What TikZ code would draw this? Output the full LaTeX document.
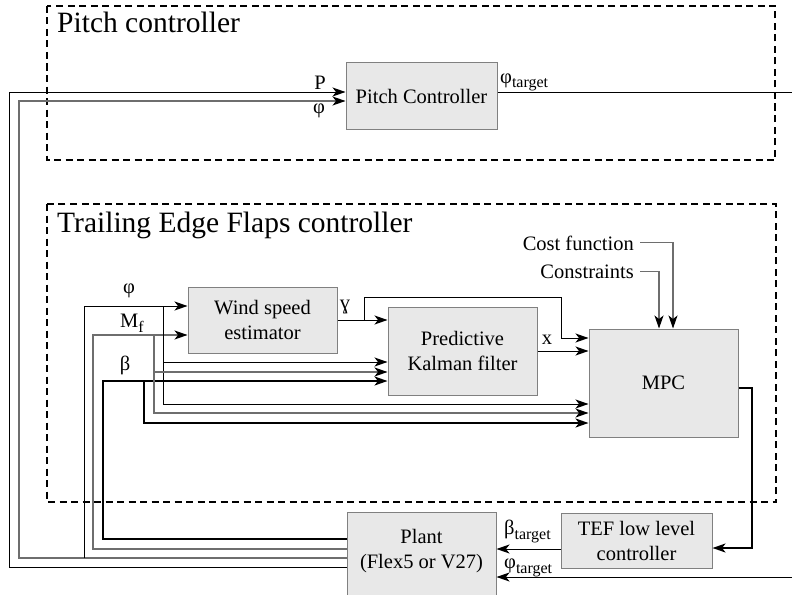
\documentclass[tikz,border=0pt]{standalone}
\usepackage{fontspec}
\setmainfont{Liberation Serif}
\usetikzlibrary{arrows.meta}
\definecolor{boxfill}{HTML}{E8E8E8}
\definecolor{boxline}{HTML}{808080}
\definecolor{wiregray}{HTML}{6E6E6E}
\newcommand{\subtxt}[1]{\raisebox{-5pt}{\fontsize{16}{16}\selectfont #1}}
\begin{document}
\begin{tikzpicture}[x=1pt,y=-1pt,
  blk/.style={draw=black,line width=1pt},
  gry/.style={draw=wiregray,line width=1.1pt},
  thk/.style={draw=black,line width=2pt},
  tip/.style={-{Stealth[length=13pt,width=9pt,inset=3.5pt,color=black]}},
  dbox/.style={draw=black,line width=1.6pt,dash pattern=on 7pt off 4.5pt},
  box/.style={draw=boxline,fill=boxfill,line width=1pt,inner sep=0pt,align=center,
    font=\fontsize{20.5}{25}\selectfont},
  lbl/.style={inner sep=0pt,font=\fontsize{20.5}{25}\selectfont},
  ttl/.style={inner sep=0pt,font=\fontsize{29.5}{32}\selectfont}
]
\clip (0,0) rectangle (792,594);
\fill[white] (0,0) rectangle (792,594);

% dashed frames
\draw[dbox] (47,6) rectangle (775,160);
\draw[dbox] (47,204) rectangle (776,502);
\node[ttl,anchor=base west] (tpitch) at (57,33) {Pitch controller};
\node[ttl,anchor=base west] (ttef) at (57,232) {Trailing Edge Flaps controller};

% blocks
\node[box,minimum width=151,minimum height=66] (pc) at (421.5,96) {Pitch Controller};
\node[box,minimum width=149,minimum height=66] (wse) at (262.5,320) {Wind speed\\estimator};
\node[box,minimum width=149,minimum height=88] (kf) at (462.5,351) {Predictive\\Kalman filter};
\node[box,minimum width=149,minimum height=108] (mpc) at (663.5,383) {MPC};
\node[box,minimum width=151,minimum height=55] (tef) at (636.5,540.5) {TEF low level\\controller};
\node[box,minimum width=149,minimum height=90] (plant) at (421.5,557) {};
\node[lbl,align=center] (plantlbl) at (421.5,551) {Plant\\(Flex5 or V27)};

% labels
\node[lbl] (lP) at (320,83) {P};
\node[lbl] (lphi1) at (319,111) {φ};
\node[lbl,anchor=base west] (lphit1) at (500,83) {φ\subtxt{target}};
\node[lbl] (lphi2) at (129,291) {φ};
\node[lbl,anchor=base west] (lmf) at (120,327) {M\subtxt{f}};
\node[lbl] (lbeta) at (125,365) {β};
\node[lbl] (lgam) at (345,307) {ɣ};
\node[lbl,anchor=base] (lx) at (547,344) {x};
\node[lbl,anchor=base west] (lbt) at (504,534) {β\subtxt{target}};
\node[lbl,anchor=base west] (lpt) at (504,568) {φ\subtxt{target}};
\node[lbl,anchor=base east] (cf) at (634,250) {Cost function};
\node[lbl,anchor=base east] (cs) at (634,278) {Constraints};

% pitch loop
\draw[blk,tip] (plant.west |- 0,567) -| (9,92) -- (pc.west |- 0,92);
\draw[gry,tip] (plant.west |- 0,558) -| (19,101) -- (pc.west |- 0,101);
\draw[blk] (pc.east |- 0,92) -- (792,92);

% TEF inputs
\draw[blk,tip] (84,558) |- (wse.west |- 0,306);
\draw[gry,tip] (plant.west |- 0,549) -| (93,335) -- (wse.west |- 0,335);
\draw[thk,tip] (plant.west |- 0,539) -| (103,381) -- (kf.west |- 0,381);
\draw[blk,tip] (163,306) |- (kf.west |- 0,362);
\draw[blk,tip] (163,306) |- (mpc.west |- 0,404);
\draw[gry,tip] (154,335) |- (kf.west |- 0,372);
\draw[gry,tip] (154,335) |- (mpc.west |- 0,413);
\draw[thk,tip] (144,381) |- (mpc.west |- 0,423);

% estimator / filter outputs
\draw[blk,tip] (wse.east) -- (kf.west |- wse.east);
\draw[blk,tip] (364,320) -- (364,297) -| (561,338) -- (mpc.west |- 0,338);
\draw[blk,tip] (kf.east |- 0,351) -- (mpc.west |- 0,351);

% MPC settings
\draw[gry,tip] ([xshift=6pt]cf.east) -| (mpc.north -| 673,0);
\draw[gry,tip] ([xshift=6pt]cs.east) -| (mpc.north -| 659,0);

% MPC output to TEF low level and plant
\draw[thk,tip] (mpc.east |- 0,388) -- (752,388) |- (tef.east |- 0,548);
\draw[blk,tip] (tef.west |- 0,549) -- (plant.east |- 0,549);
\draw[blk,tip] (792,577) -- (plant.east |- 0,577);
\end{tikzpicture}
\end{document}
